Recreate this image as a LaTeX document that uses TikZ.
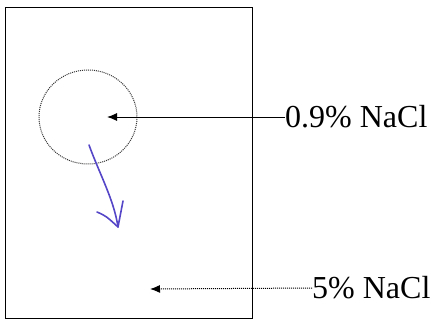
\documentclass[tikz,border=0pt]{standalone}
\usepackage{fontspec}
\setmainfont{Liberation Serif}
\usetikzlibrary{arrows.meta,positioning}

\definecolor{penblue}{RGB}{85,70,200}

\tikzset{
  label/.style={inner sep=0pt, anchor=west, font=\fontsize{32}{36}\selectfont},
  pointer/.style={-{Latex[length=10pt,width=8pt]}, line width=1pt},
}

\begin{document}
\begin{tikzpicture}[x=1pt, y=-1pt]
    \useasboundingbox (0,0) rectangle (430,321);

    % Container and cell
    \draw[line width=1pt] (5,8) rectangle (252,318);
    \draw[black!80, densely dotted, line width=1pt] (88,117) ellipse [x radius=49, y radius=47];

    % Labels
    \node[label] (inside) at (285,117) {0.9\% NaCl};
    \node[label] (outside) at (312,288) {5\% NaCl};
    \coordinate (cellc) at (107,117);
    \coordinate (bath) at (150,289);

    \draw[pointer] (inside.west) -- (cellc);
    \draw[pointer, densely dotted] (outside.west) -- (bath);

    % Hand drawn water flow
    \draw[penblue, line width=1.6pt, line cap=round]
        (89,145) .. controls (100,175) and (114,200) .. (118,227);
    \draw[penblue, line width=1.6pt, line cap=round, line join=round]
        (97,212) .. controls (106,216) .. (118,227) -- (123,201);
\end{tikzpicture}
\end{document}
